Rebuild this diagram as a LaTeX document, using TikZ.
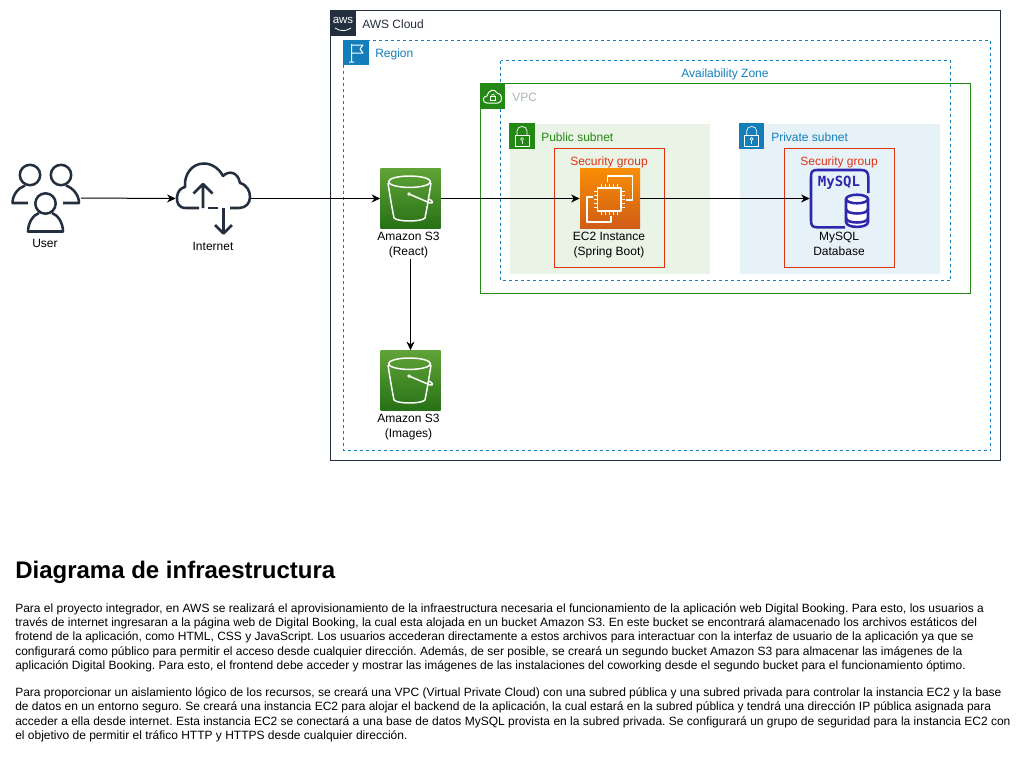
\documentclass[tikz,border=0pt]{standalone}
\usepackage{fontspec}
\setmainfont{Liberation Sans}
\newfontfamily\iconmono{DejaVu Sans Mono}
\usetikzlibrary{arrows.meta}
\definecolor{awsdark}{HTML}{232F3E}
\definecolor{awsblue}{HTML}{147EBA}
\definecolor{awsgreen}{HTML}{248814}
\definecolor{awsred}{HTML}{DF3312}
\definecolor{awsgray}{HTML}{AAB7B8}
\definecolor{pubfill}{HTML}{E9F3E6}
\definecolor{privfill}{HTML}{E6F2F8}
\definecolor{dbblue}{HTML}{2E27AD}
\definecolor{s3top}{HTML}{60A337}
\definecolor{s3bottom}{HTML}{277116}
\definecolor{ec2top}{HTML}{F78E04}
\definecolor{ec2bottom}{HTML}{D05C17}
\tikzset{
  txt/.style={font=\fontsize{9pt}{11.25pt}\selectfont,inner sep=0pt,align=center,text=black},
  grouplabel/.style={font=\fontsize{9pt}{10.8pt}\selectfont,inner sep=0pt,anchor=west},
  para/.style={font=\fontsize{9pt}{10.75pt}\selectfont\frenchspacing,inner sep=0pt,anchor=north west,align=left,text=black},
  conn/.style={draw=black,line width=0.75pt,-{Stealth[length=6.5pt,width=6pt]}},
  sgroup/.style={draw=awsred,line width=0.75pt},
  dashgroup/.style={draw=awsblue,line width=0.75pt,dash pattern=on 2.25pt off 2.25pt},
  iconbox/.style={inner sep=0pt,minimum size=19.1pt,draw=none},
  bigicon/.style={inner sep=0pt,minimum size=45pt,draw=none},
  s3box/.style={bigicon,shading=axis,top color=s3top,bottom color=s3bottom},
  whiteline/.style={draw=white,line width=0.75pt,line join=round,fill=none},
  whitethick/.style={draw=white,line width=1.1pt,line join=round,fill=none},
  darkicon/.style={draw=awsdark,line width=1.9pt,line cap=butt,line join=round,fill=none},
  dbicon/.style={draw=dbblue,line width=1.9pt,line join=round,fill=none},
  ghost/.style={inner sep=0pt,draw=none,fill=none},
  pics/bucket/.style={code={
    \draw[whitethick] (29.5,13.7) ellipse (21 and 5.7);
    \draw[whitethick] (8,15) .. controls (10,28) and (12,40) .. (14,50)
       .. controls (18,54) and (41,54) .. (45,50)
       .. controls (47,40) and (49,28) .. (51,15);
    \draw[whitethick] (29,26) -- (50,35) .. controls (54,36) and (53,32) .. (48,31);
    \fill[white] (29,26) circle (1.8);
  }},
  lockicon/.style={draw=white,line width=0.5pt,fill=none},
}
\begin{document}
\begin{tikzpicture}[x=0.75pt,y=-0.75pt]
\useasboundingbox (0,0) rectangle (1031,761);
\fill[white] (0,0) rectangle (1031,761);

% groups
\draw[draw=awsdark,line width=0.75pt] (330.5,10.5) rectangle (1000.5,460.5);
\draw[dashgroup] (343.5,40.5) rectangle (990.5,450.5);
\fill[pubfill] (510,124) rectangle (710,274);
\fill[privfill] (740,124) rectangle (940,274);
\draw[draw=awsgreen,line width=0.75pt] (480.5,83.5) rectangle (970.5,293.5);
\draw[dashgroup] (500.5,60.5) rectangle (950.5,280.5);
\draw[sgroup] (554.5,148.5) rectangle (664.5,267.5);
\draw[sgroup] (784.5,148.5) rectangle (894.5,267.5);

% group icons
\node[iconbox,fill=awsdark] (awsicon) at (343,23) {};
\node[font=\fontsize{8.6pt}{9pt}\selectfont,text=white,inner sep=0pt] (awstext) at (343,20) {aws};
\draw[white,line width=0.6pt] (335,28) .. controls (340,31.5) and (346,31.5) .. (351,28);
\node[iconbox,fill=awsblue] (regionicon) at (355.8,52.7) {};
\draw[whiteline] (351.5,44) -- (351.5,62) (349,62) -- (354,62)
  (351.5,45) -- (363,45) -- (360,49) -- (363,53) -- (351.5,53);
\node[iconbox,fill=awsgreen] (vpcicon) at (492.7,96) {};
\draw[whiteline] (487,103) .. controls (482,103) and (482,96) .. (487,96)
  .. controls (488,90) and (495,88) .. (497,93)
  .. controls (503,93) and (503,103) .. (498,103) -- cycle;
\draw[lockicon] (490.5,96.5) rectangle (495.5,100);
\draw[lockicon] (491.5,96.5) .. controls (491.5,93.5) and (494.5,93.5) .. (494.5,96.5);
\node[iconbox,fill=awsgreen] (pubicon) at (522,136) {};
\node[iconbox,fill=awsblue] (privicon) at (751.7,136) {};
\foreach \cx in {522,751.7}{
  \draw[lockicon] (\cx-7,135) rectangle (\cx+7,146);
  \draw[lockicon] (\cx-5,135) -- (\cx-5,131) .. controls (\cx-5,125) and (\cx+5,125) .. (\cx+5,131) -- (\cx+5,135);
  \draw[lockicon] (\cx,139) circle (1.5);
  \draw[lockicon] (\cx,140.5) -- (\cx,143.5);
}

% group labels
\node[grouplabel,text=awsdark] (lcloud) at (362,24) {AWS Cloud};
\node[grouplabel,text=awsblue] (lregion) at (375,54.5) {Region};
\node[grouplabel,text=awsgray] (lvpc) at (512,97) {VPC};
\node[grouplabel,text=awsgreen] (lpub) at (541,137) {Public subnet};
\node[grouplabel,text=awsblue] (lpriv) at (771,137) {Private subnet};
\node[grouplabel,anchor=center,text=awsblue] (laz) at (725,74) {Availability Zone};
\node[grouplabel,anchor=center,text=awsred] (lsg1) at (609,162) {Security group};
\node[grouplabel,anchor=center,text=awsred] (lsg2) at (839,162) {Security group};

% S3 icons
\node[s3box] (s3react) at (410.5,198.5) {};
\node[s3box] (s3images) at (410.5,380.5) {};
\pic (bucketreact) at (380,168) {bucket};
\pic (bucketimages) at (380,350) {bucket};

% EC2
\node[bigicon,shading=axis,top color=ec2top,bottom color=ec2bottom] (ec2) at (610,198.5) {};
\draw[whitethick] (597.5,188) rectangle (621,211);
\foreach \t in {0,1,2,3,4}{
  \draw[whiteline] (601+\t*4,188) -- (601+\t*4,184);
  \draw[whiteline] (601+\t*4,211) -- (601+\t*4,215);
  \draw[whiteline] (597.5,191.5+\t*4) -- (593.5,191.5+\t*4);
  \draw[whiteline] (621,191.5+\t*4) -- (625,191.5+\t*4);
}
\draw[whitethick] (607.5,182) -- (607.5,176) -- (632.5,176) -- (632.5,200) -- (626,200);
\draw[whitethick] (593,197) -- (587,197) -- (587,222) -- (611,222) -- (611,216);

% MySQL
\node[ghost,minimum width=44.25pt,minimum height=45pt] (mysql) at (839.5,198.5) {};
\draw[dbicon] (868.3,193) -- (868.3,177) .. controls (868.3,172) and (866,170) .. (861,170)
  -- (817,170) .. controls (812,170) and (811,172) .. (811,177)
  -- (811,220) .. controls (811,225) and (812,227.3) .. (817,227.3) -- (845,227.3);
\node[font=\iconmono\bfseries\fontsize{10.5pt}{11pt}\selectfont,text=dbblue,inner sep=0pt] (mysqltext) at (839,183) {MySQL};
\draw[dbicon,fill=white] (846,199) -- (846,222) .. controls (846,228.5) and (868,228.5) .. (868,222) -- (868,199);
\draw[dbicon] (857,199) ellipse (11 and 4.3);
\draw[dbicon] (846,209) .. controls (846,215) and (868,215) .. (868,209);
\draw[dbicon] (846,218) .. controls (846,224) and (868,224) .. (868,218);

% User
\node[ghost,minimum width=52.5pt,minimum height=52.5pt] (user) at (45.5,198) {};
\draw[darkicon] (30,175) circle (10.2) (61,175) circle (10.2) (45.5,203.5) circle (10.2);
\draw[darkicon] (28,203) -- (12.5,203) .. controls (12.5,195) and (18,188) .. (25,185.5);
\draw[darkicon] (63,203) -- (79,203) .. controls (79,195) and (73,188) .. (66,185.5);
\draw[darkicon] (39,213) .. controls (33,215) and (28,223) .. (28,231.5) -- (63,231.5)
  .. controls (63,223) and (58,215) .. (52,213);

% Internet
\node[ghost,minimum width=56.25pt,minimum height=52.5pt] (internet) at (213.5,198.5) {};
\draw[darkicon] (199,208) -- (186,208) .. controls (178,208) and (176.5,202) .. (177,197)
  .. controls (177.5,191) and (181,188) .. (185,187)
  .. controls (184,174) and (192,163.5) .. (204,163.5)
  .. controls (213,163.5) and (220,170) .. (223,176)
  .. controls (229,170) and (238,172) .. (240,183)
  .. controls (247,185) and (250,191) .. (250,197)
  .. controls (250,203) and (246,208) .. (239,208) -- (230,208);
\draw[darkicon] (208,208) -- (218,208);
\draw[darkicon] (203,208) -- (203,184) (193.5,193.5) -- (203,184) -- (212.5,193.5);
\draw[darkicon] (223.5,208) -- (223.5,233) (215,225) -- (223.5,233.5) -- (232,225);

% icon labels
\node[txt] (luser) at (45,243) {User};
\node[txt] (linternet) at (213,246) {Internet};
\node[txt,anchor=north] (ls3r) at (408.5,232) {Amazon S3\\(React)};
\node[txt,anchor=north] (ls3i) at (408.5,414) {Amazon S3\\(Images)};
\node[txt,anchor=north] (lec2) at (609,232) {EC2 Instance\\(Spring Boot)};
\node[txt,anchor=north] (lmysql) at (839,232) {MySQL\\Database};

% connectors
\draw[conn] (user.east) -- (internet.west);
\draw[conn] (internet.east) -- (s3react.west);
\draw[conn] (s3react.east) -- (ec2.west);
\draw[conn] (ec2.east) -- (mysql.west);
\coordinate (s3down) at (410.5,259);
\draw[conn] (s3down) -- (s3images.north);

% text
\node[font=\bfseries\fontsize{18pt}{22pt}\selectfont,inner sep=0pt,anchor=base west] (title) at (15,578.5) {Diagrama de infraestructura};
\node[para] (p1) at (15,603) {Para el proyecto integrador, en AWS se realizará el aprovisionamiento de la infraestructura necesaria el funcionamiento de la aplicación web Digital Booking. Para esto, los usuarios a\\
través de internet ingresaran a la página web de Digital Booking, la cual esta alojada en un bucket Amazon S3. En este bucket se encontrará alamacenado los archivos estáticos del\\
frotend de la aplicación, como HTML, CSS y JavaScript. Los usuarios accederan directamente a estos archivos para interactuar con la interfaz de usuario de la aplicación ya que se\\
configurará como público para permitir el acceso desde cualquier dirección. Además, de ser posible, se creará un segundo bucket Amazon S3 para almacenar las imágenes de la\\
aplicación Digital Booking. Para esto, el frontend debe acceder y mostrar las imágenes de las instalaciones del coworking desde el segundo bucket para el funcionamiento óptimo.};
\node[para] (p2) at (15,687.5) {Para proporcionar un aislamiento lógico de los recursos, se creará una VPC (Virtual Private Cloud) con una subred pública y una subred privada para controlar la instancia EC2 y la base\\
de datos en un entorno seguro. Se creará una instancia EC2 para alojar el backend de la aplicación, la cual estará en la subred pública y tendrá una dirección IP pública asignada para\\
acceder a ella desde internet. Esta instancia EC2 se conectará a una base de datos MySQL provista en la subred privada. Se configurará un grupo de seguridad para la instancia EC2 con\\
el objetivo de permitir el tráfico HTTP y HTTPS desde cualquier dirección.};
\end{tikzpicture}
\end{document}
